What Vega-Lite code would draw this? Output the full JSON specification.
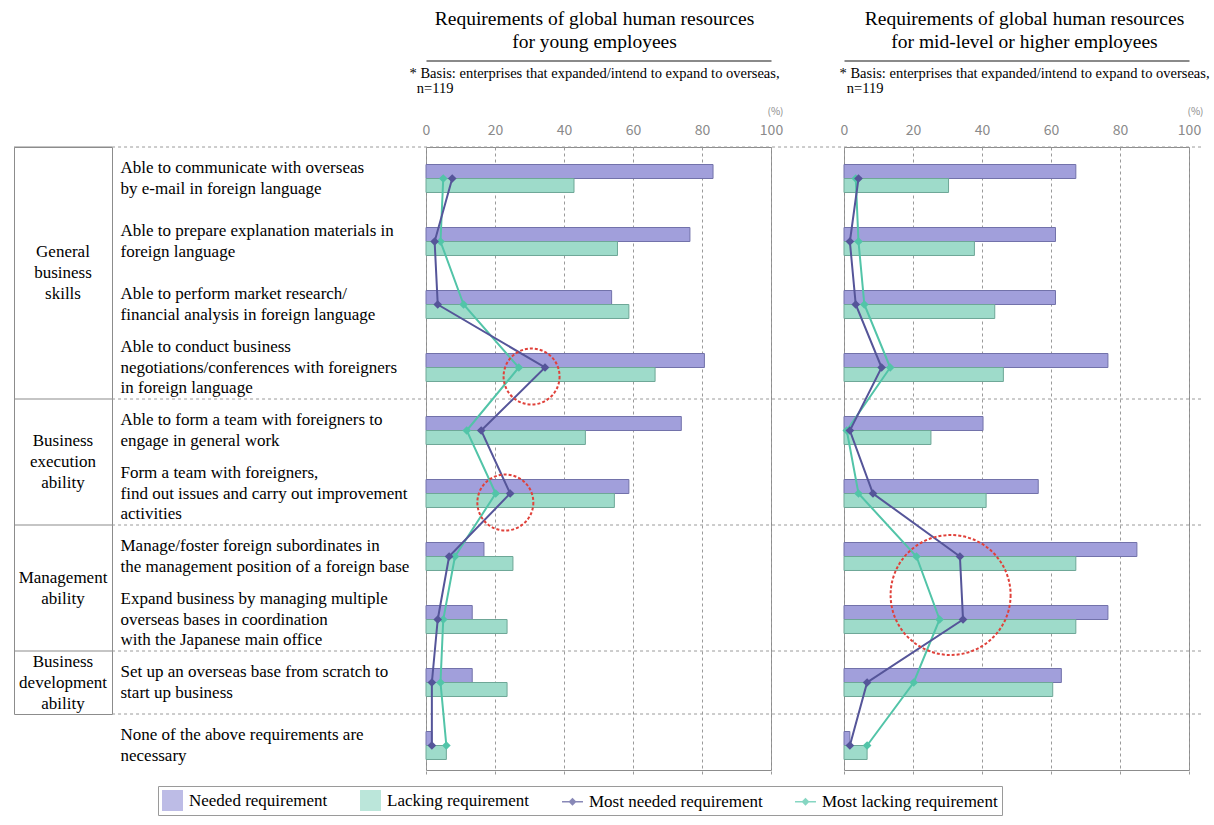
{
  "$schema": "https://vega.github.io/schema/vega-lite/v6.json",
  "padding": {"left": 12, "top": 8, "right": 5, "bottom": 5},
  "bounds": "flush",
  "spacing": 314,
  "config": {
    "view": {"stroke": "#8c8c8c", "strokeWidth": 1},
    "font": "Liberation Serif",
    "title": {"font": "Liberation Serif", "fontSize": 19.5, "fontWeight": "normal", "color": "#000", "lineHeight": 23, "frame": "group", "anchor": "middle", "offset": 8}
  },
  "datasets": {
    "items": [
      {"idx": 1, "item": "Able to communicate with overseas|by e-mail in foreign language"},
      {"idx": 2, "item": "Able to prepare explanation materials in|foreign language"},
      {"idx": 3, "item": "Able to perform market research/|financial analysis in foreign language"},
      {"idx": 4, "item": "Able to conduct business|negotiations/conferences with foreigners|in foreign language"},
      {"idx": 5, "item": "Able to form a team with foreigners to|engage in general work"},
      {"idx": 6, "item": "Form a team with foreigners,|find out issues and carry out improvement|activities"},
      {"idx": 7, "item": "Manage/foster foreign subordinates in|the management position of a foreign base"},
      {"idx": 8, "item": "Expand business by managing multiple|overseas bases in coordination|with the Japanese main office"},
      {"idx": 9, "item": "Set up an overseas base from scratch to|start up business"},
      {"idx": 10, "item": "None of the above requirements are|necessary"}
    ],
    "groups": [
      {"label": ["General", "business", "skills"], "first": 1, "anchor": 2, "span": 4},
      {"label": ["Business", "execution", "ability"], "first": 5, "anchor": 5, "span": 2},
      {"label": ["Management", "ability"], "first": 7, "anchor": 7, "span": 2},
      {"label": ["Business", "development", "ability"], "first": 9, "anchor": 9, "span": 1}
    ],
    "marks": [
      {"panel": "young", "idx": 4, "value": 30.6},
      {"panel": "young", "idx": 6, "value": 23.0},
      {"panel": "mid", "idx": 8, "value": 30.9}
    ],
    "vals": [
      {"panel": "young", "idx": 1, "series": "N", "value": 83.2},
      {"panel": "young", "idx": 2, "series": "N", "value": 76.5},
      {"panel": "young", "idx": 3, "series": "N", "value": 53.8},
      {"panel": "young", "idx": 4, "series": "N", "value": 80.7},
      {"panel": "young", "idx": 5, "series": "N", "value": 74.0},
      {"panel": "young", "idx": 6, "series": "N", "value": 58.8},
      {"panel": "young", "idx": 7, "series": "N", "value": 16.8},
      {"panel": "young", "idx": 8, "series": "N", "value": 13.4},
      {"panel": "young", "idx": 9, "series": "N", "value": 13.4},
      {"panel": "young", "idx": 10, "series": "N", "value": 1.7},
      {"panel": "young", "idx": 1, "series": "L", "value": 42.9},
      {"panel": "young", "idx": 2, "series": "L", "value": 55.5},
      {"panel": "young", "idx": 3, "series": "L", "value": 58.8},
      {"panel": "young", "idx": 4, "series": "L", "value": 66.4},
      {"panel": "young", "idx": 5, "series": "L", "value": 46.2},
      {"panel": "young", "idx": 6, "series": "L", "value": 54.6},
      {"panel": "young", "idx": 7, "series": "L", "value": 25.2},
      {"panel": "young", "idx": 8, "series": "L", "value": 23.5},
      {"panel": "young", "idx": 9, "series": "L", "value": 23.5},
      {"panel": "young", "idx": 10, "series": "L", "value": 5.9},
      {"panel": "young", "idx": 1, "series": "MN", "value": 7.6},
      {"panel": "young", "idx": 2, "series": "MN", "value": 2.5},
      {"panel": "young", "idx": 3, "series": "MN", "value": 3.4},
      {"panel": "young", "idx": 4, "series": "MN", "value": 34.5},
      {"panel": "young", "idx": 5, "series": "MN", "value": 16.0},
      {"panel": "young", "idx": 6, "series": "MN", "value": 24.4},
      {"panel": "young", "idx": 7, "series": "MN", "value": 6.7},
      {"panel": "young", "idx": 8, "series": "MN", "value": 3.4},
      {"panel": "young", "idx": 9, "series": "MN", "value": 1.7},
      {"panel": "young", "idx": 10, "series": "MN", "value": 1.7},
      {"panel": "young", "idx": 1, "series": "ML", "value": 5.0},
      {"panel": "young", "idx": 2, "series": "ML", "value": 4.2},
      {"panel": "young", "idx": 3, "series": "ML", "value": 10.9},
      {"panel": "young", "idx": 4, "series": "ML", "value": 26.9},
      {"panel": "young", "idx": 5, "series": "ML", "value": 11.8},
      {"panel": "young", "idx": 6, "series": "ML", "value": 20.2},
      {"panel": "young", "idx": 7, "series": "ML", "value": 8.4},
      {"panel": "young", "idx": 8, "series": "ML", "value": 5.0},
      {"panel": "young", "idx": 9, "series": "ML", "value": 4.2},
      {"panel": "young", "idx": 10, "series": "ML", "value": 5.9},
      {"panel": "mid", "idx": 1, "series": "N", "value": 67.2},
      {"panel": "mid", "idx": 2, "series": "N", "value": 61.3},
      {"panel": "mid", "idx": 3, "series": "N", "value": 61.3},
      {"panel": "mid", "idx": 4, "series": "N", "value": 76.5},
      {"panel": "mid", "idx": 5, "series": "N", "value": 40.3},
      {"panel": "mid", "idx": 6, "series": "N", "value": 56.3},
      {"panel": "mid", "idx": 7, "series": "N", "value": 84.9},
      {"panel": "mid", "idx": 8, "series": "N", "value": 76.5},
      {"panel": "mid", "idx": 9, "series": "N", "value": 63.0},
      {"panel": "mid", "idx": 10, "series": "N", "value": 1.7},
      {"panel": "mid", "idx": 1, "series": "L", "value": 30.3},
      {"panel": "mid", "idx": 2, "series": "L", "value": 37.8},
      {"panel": "mid", "idx": 3, "series": "L", "value": 43.7},
      {"panel": "mid", "idx": 4, "series": "L", "value": 46.2},
      {"panel": "mid", "idx": 5, "series": "L", "value": 25.2},
      {"panel": "mid", "idx": 6, "series": "L", "value": 41.2},
      {"panel": "mid", "idx": 7, "series": "L", "value": 67.2},
      {"panel": "mid", "idx": 8, "series": "L", "value": 67.2},
      {"panel": "mid", "idx": 9, "series": "L", "value": 60.5},
      {"panel": "mid", "idx": 10, "series": "L", "value": 6.7},
      {"panel": "mid", "idx": 1, "series": "MN", "value": 4.2},
      {"panel": "mid", "idx": 2, "series": "MN", "value": 1.7},
      {"panel": "mid", "idx": 3, "series": "MN", "value": 3.4},
      {"panel": "mid", "idx": 4, "series": "MN", "value": 10.9},
      {"panel": "mid", "idx": 5, "series": "MN", "value": 1.7},
      {"panel": "mid", "idx": 6, "series": "MN", "value": 8.4},
      {"panel": "mid", "idx": 7, "series": "MN", "value": 33.6},
      {"panel": "mid", "idx": 8, "series": "MN", "value": 34.5},
      {"panel": "mid", "idx": 9, "series": "MN", "value": 6.7},
      {"panel": "mid", "idx": 10, "series": "MN", "value": 1.7},
      {"panel": "mid", "idx": 1, "series": "ML", "value": 3.4},
      {"panel": "mid", "idx": 2, "series": "ML", "value": 4.2},
      {"panel": "mid", "idx": 3, "series": "ML", "value": 5.9},
      {"panel": "mid", "idx": 4, "series": "ML", "value": 13.4},
      {"panel": "mid", "idx": 5, "series": "ML", "value": 0.8},
      {"panel": "mid", "idx": 6, "series": "ML", "value": 4.2},
      {"panel": "mid", "idx": 7, "series": "ML", "value": 21.0},
      {"panel": "mid", "idx": 8, "series": "ML", "value": 27.7},
      {"panel": "mid", "idx": 9, "series": "ML", "value": 20.2},
      {"panel": "mid", "idx": 10, "series": "ML", "value": 6.7}
    ]
  },
  "hconcat": [
    {
      "width": 98,
      "height": 567,
      "data": {"name": "groups"},
      "layer": [
        {
          "mark": {"type": "rule", "color": "#8c8c8c", "strokeWidth": 1.2},
          "encoding": {
            "y": {"field": "first", "type": "ordinal", "bandPosition": 0, "scale": {"type": "band", "domain": [1, 2, 3, 4, 5, 6, 7, 8, 9], "paddingInner": 0, "paddingOuter": 0}, "axis": null}
          }
        },
        {
          "transform": [{"filter": "datum.span > 1 && length(datum.label) == 3"}],
          "mark": {"type": "text", "font": "Liberation Serif", "fontSize": 17, "lineHeight": 21, "align": "center", "baseline": "middle", "color": "#000", "dy": -21},
          "encoding": {
            "y": {"field": "anchor", "type": "ordinal", "bandPosition": 1, "axis": null},
            "text": {"field": "label", "type": "nominal"}
          }
        },
        {
          "transform": [{"filter": "datum.span > 1 && length(datum.label) == 2"}],
          "mark": {"type": "text", "font": "Liberation Serif", "fontSize": 17, "lineHeight": 21, "align": "center", "baseline": "middle", "color": "#000", "dy": -10.5},
          "encoding": {
            "y": {"field": "anchor", "type": "ordinal", "bandPosition": 1, "axis": null},
            "text": {"field": "label", "type": "nominal"}
          }
        },
        {
          "transform": [{"filter": "datum.span == 1"}],
          "mark": {"type": "text", "font": "Liberation Serif", "fontSize": 17, "lineHeight": 21, "align": "center", "baseline": "middle", "color": "#000", "dy": -21},
          "encoding": {
            "y": {"field": "anchor", "type": "ordinal", "bandPosition": 0.5, "axis": null},
            "text": {"field": "label", "type": "nominal"}
          }
        }
      ]
    },
    {
      "hconcat": [
        {
          "width": 345,
          "height": 623,
          "title": {"text": ["Requirements of global human resources", "for young employees"], "dx": -4},
          "data": {"name": "vals"},
          "transform": [
            {"filter": "datum.panel == 'young'"},
            {"lookup": "idx", "from": {"data": {"name": "items"}, "key": "idx", "fields": ["item"]}}
          ],
          "resolve": {"axis": {"x": "independent"}},
          "layer": [
            {
              "transform": [{"filter": "datum.series == 'N' || datum.series == 'L'"}],
              "mark": {"type": "bar", "strokeWidth": 1},
              "encoding": {
                "y": {
                  "field": "item", "type": "nominal", "sort": null,
                  "scale": {"type": "band", "range": [0, 630], "paddingInner": 0.5556, "paddingOuter": 0.2778},
                  "axis": {"orient": "left", "labelExpr": "split(datum.label, '|')", "labelAlign": "left", "labelBaseline": "middle", "labelOffset": {"condition": {"test": "length(split(datum.value, '|')) == 3", "value": -20.5}, "value": -10.25}, "labelPadding": 306, "labelFont": "Liberation Serif", "labelFontSize": 17, "labelLineHeight": 20.5, "labelColor": "#000", "labelLimit": 0, "labelOverlap": false, "labelBound": false, "domain": false, "ticks": false, "grid": false, "title": null}
                },
                "yOffset": {"field": "series", "type": "nominal", "sort": ["N", "L"], "scale": {"domain": ["N", "L"], "paddingInner": 0, "paddingOuter": 0}},
                "x": {
                  "field": "value", "type": "quantitative",
                  "scale": {"domain": [0, 100], "nice": false},
                  "axis": {"orient": "top", "values": [0, 20, 40, 60, 80, 100], "labelFlush": false, "labelFont": "Noto Sans CJK JP", "labelFontSize": 14, "labelColor": "#8a8a8a", "labelPadding": 10, "ticks": false, "domain": false, "grid": true, "gridColor": "#9a9a9a", "gridDash": [3, 3], "title": "(%)", "titleFont": "Noto Sans CJK JP", "titleFontSize": 10, "titleFontWeight": "normal", "titleColor": "#8a8a8a", "titleX": 357, "titleY": -36, "titleAlign": "right", "titleBaseline": "middle", "titleAngle": 0}
                },
                "fill": {"condition": {"test": "datum.series == 'N'", "value": "#a19fdb"}, "value": "#9edbca"},
                "stroke": {"condition": {"test": "datum.series == 'N'", "value": "#7272aa"}, "value": "#6ea797"}
              }
            },
            {
              "transform": [{"filter": "datum.series == 'N' && indexof([1, 5, 7, 9, 10], datum.idx) >= 0"}],
              "mark": {"type": "rule", "color": "#9a9a9a", "strokeDash": [3, 3], "yOffset": -31.5},
              "encoding": {
                "y": {"field": "item", "type": "nominal", "sort": null},
                "x": {"datum": -91, "type": "quantitative", "axis": null},
                "x2": {"datum": 121}
              }
            },
            {
              "transform": [{"filter": "datum.series == 'ML'"}],
              "mark": {"type": "line", "color": "#52c4a8", "strokeWidth": 2},
              "encoding": {
                "y": {"field": "item", "type": "nominal", "sort": null},
                "x": {"field": "value", "type": "quantitative", "axis": null},
                "order": {"field": "idx"}
              }
            },
            {
              "transform": [{"filter": "datum.series == 'MN'"}],
              "mark": {"type": "line", "color": "#555599", "strokeWidth": 2},
              "encoding": {
                "y": {"field": "item", "type": "nominal", "sort": null},
                "x": {
                  "field": "value", "type": "quantitative",
                  "axis": {"orient": "top", "offset": 86.5, "labels": false, "ticks": false, "grid": false, "domain": true, "domainColor": "#8a8a8a", "domainWidth": 2, "title": ["* Basis: enterprises that expanded/intend to expand to overseas,", "\u200b\u00a0\u00a0n=119"], "titleFont": "Liberation Serif", "titleFontSize": 14.5, "titleFontWeight": "normal", "titleColor": "#000", "titleAlign": "left", "titleBaseline": "top", "titleX": -17, "titleY": 6, "titleLineHeight": 15, "titleAngle": 0}
                },
                "order": {"field": "idx"}
              }
            },
            {
              "transform": [{"filter": "datum.series == 'ML'"}],
              "mark": {"type": "point", "shape": "diamond", "size": 75, "filled": true, "color": "#52c4a8", "opacity": 1},
              "encoding": {
                "y": {"field": "item", "type": "nominal", "sort": null},
                "x": {"field": "value", "type": "quantitative", "axis": null}
              }
            },
            {
              "transform": [{"filter": "datum.series == 'MN'"}],
              "mark": {"type": "point", "shape": "diamond", "size": 75, "filled": true, "color": "#555599", "opacity": 1},
              "encoding": {
                "y": {"field": "item", "type": "nominal", "sort": null},
                "x": {"field": "value", "type": "quantitative", "axis": null}
              }
            },
            {
              "data": {"name": "marks"},
              "transform": [
                {"filter": "datum.panel == 'young'"},
                {"lookup": "idx", "from": {"data": {"name": "items"}, "key": "idx", "fields": ["item"]}}
              ],
              "mark": {"type": "point", "shape": "circle", "size": 3136, "filled": false, "stroke": "#e0413a", "strokeWidth": 2, "strokeDash": [3, 2], "yOffset": 9, "opacity": 1},
              "encoding": {
                "y": {"field": "item", "type": "nominal", "sort": null},
                "x": {"field": "value", "type": "quantitative", "axis": null}
              }
            }
          ]
        },
        {
          "width": 345,
          "height": 623,
          "title": {"text": ["Requirements of global human resources", "for mid-level or higher employees"], "dx": 8},
          "data": {"name": "vals"},
          "transform": [
            {"filter": "datum.panel == 'mid'"},
            {"lookup": "idx", "from": {"data": {"name": "items"}, "key": "idx", "fields": ["item"]}}
          ],
          "resolve": {"axis": {"x": "independent"}},
          "layer": [
            {
              "transform": [{"filter": "datum.series == 'N' || datum.series == 'L'"}],
              "mark": {"type": "bar", "strokeWidth": 1},
              "encoding": {
                "y": {
                  "field": "item", "type": "nominal", "sort": null,
                  "scale": {"type": "band", "range": [0, 630], "paddingInner": 0.5556, "paddingOuter": 0.2778},
                  "axis": null
                },
                "yOffset": {"field": "series", "type": "nominal", "sort": ["N", "L"], "scale": {"domain": ["N", "L"], "paddingInner": 0, "paddingOuter": 0}},
                "x": {
                  "field": "value", "type": "quantitative",
                  "scale": {"domain": [0, 100], "nice": false},
                  "axis": {"orient": "top", "values": [0, 20, 40, 60, 80, 100], "labelFlush": false, "labelFont": "Noto Sans CJK JP", "labelFontSize": 14, "labelColor": "#8a8a8a", "labelPadding": 10, "ticks": false, "domain": false, "grid": true, "gridColor": "#9a9a9a", "gridDash": [3, 3], "title": "(%)", "titleFont": "Noto Sans CJK JP", "titleFontSize": 10, "titleFontWeight": "normal", "titleColor": "#8a8a8a", "titleX": 359, "titleY": -36, "titleAlign": "right", "titleBaseline": "middle", "titleAngle": 0}
                },
                "fill": {"condition": {"test": "datum.series == 'N'", "value": "#a19fdb"}, "value": "#9edbca"},
                "stroke": {"condition": {"test": "datum.series == 'N'", "value": "#7272aa"}, "value": "#6ea797"}
              }
            },
            {
              "transform": [{"filter": "datum.series == 'N' && indexof([1, 5, 7, 9, 10], datum.idx) >= 0"}],
              "mark": {"type": "rule", "color": "#9a9a9a", "strokeDash": [3, 3], "yOffset": -31.5},
              "encoding": {
                "y": {"field": "item", "type": "nominal", "sort": null, "axis": null},
                "x": {"datum": 0, "type": "quantitative", "axis": null},
                "x2": {"datum": 104}
              }
            },
            {
              "transform": [{"filter": "datum.series == 'ML'"}],
              "mark": {"type": "line", "color": "#52c4a8", "strokeWidth": 2},
              "encoding": {
                "y": {"field": "item", "type": "nominal", "sort": null, "axis": null},
                "x": {"field": "value", "type": "quantitative", "axis": null},
                "order": {"field": "idx"}
              }
            },
            {
              "transform": [{"filter": "datum.series == 'MN'"}],
              "mark": {"type": "line", "color": "#555599", "strokeWidth": 2},
              "encoding": {
                "y": {"field": "item", "type": "nominal", "sort": null, "axis": null},
                "x": {
                  "field": "value", "type": "quantitative",
                  "axis": {"orient": "top", "offset": 86.5, "labels": false, "ticks": false, "grid": false, "domain": true, "domainColor": "#8a8a8a", "domainWidth": 2, "title": ["* Basis: enterprises that expanded/intend to expand to overseas,", "\u200b\u00a0\u00a0n=119"], "titleFont": "Liberation Serif", "titleFontSize": 14.5, "titleFontWeight": "normal", "titleColor": "#000", "titleAlign": "left", "titleBaseline": "top", "titleX": -5, "titleY": 6, "titleLineHeight": 15, "titleAngle": 0}
                },
                "order": {"field": "idx"}
              }
            },
            {
              "transform": [{"filter": "datum.series == 'ML'"}],
              "mark": {"type": "point", "shape": "diamond", "size": 75, "filled": true, "color": "#52c4a8", "opacity": 1},
              "encoding": {
                "y": {"field": "item", "type": "nominal", "sort": null, "axis": null},
                "x": {"field": "value", "type": "quantitative", "axis": null}
              }
            },
            {
              "transform": [{"filter": "datum.series == 'MN'"}],
              "mark": {"type": "point", "shape": "diamond", "size": 75, "filled": true, "color": "#555599", "opacity": 1},
              "encoding": {
                "y": {"field": "item", "type": "nominal", "sort": null, "axis": null},
                "x": {"field": "value", "type": "quantitative", "axis": null}
              }
            },
            {
              "data": {"name": "marks"},
              "transform": [
                {"filter": "datum.panel == 'mid'"},
                {"lookup": "idx", "from": {"data": {"name": "items"}, "key": "idx", "fields": ["item"]}}
              ],
              "mark": {"type": "point", "shape": "circle", "size": 14400, "filled": false, "stroke": "#e0413a", "strokeWidth": 2, "strokeDash": [3, 2], "yOffset": -24.5, "opacity": 1},
              "encoding": {
                "y": {"field": "item", "type": "nominal", "sort": null, "axis": null},
                "x": {"field": "value", "type": "quantitative", "axis": null}
              }
            },
            {
              "transform": [{"filter": "datum.idx == 10"}],
              "mark": {"type": "point", "filled": true, "clip": true},
              "encoding": {
                "y": {"field": "item", "type": "nominal", "sort": null, "axis": null},
                "x": {"datum": -60, "type": "quantitative", "axis": null},
                "color": {
                  "field": "series", "type": "nominal",
                  "scale": {"domain": ["N", "L", "MN", "ML"], "range": ["#a19fdb", "#9edbca", "#555599", "#52c4a8"]},
                  "legend": {"orient": "none", "legendX": 144, "legendY": 639, "direction": "horizontal", "columns": 4, "title": null, "labelFont": "Liberation Serif", "labelFontSize": 17, "labelColor": "#000", "labelLimit": 0, "symbolSize": 440, "symbolStrokeWidth": 0, "strokeColor": "#9a9a9a", "padding": 4, "columnPadding": 32, "labelOffset": 6, "labelExpr": "datum.label == 'N' ? 'Needed requirement' : datum.label == 'L' ? 'Lacking requirement' : datum.label == 'MN' ? 'Most needed requirement' : 'Most lacking requirement'"}
                },
                "shape": {
                  "field": "series", "type": "nominal",
                  "scale": {"domain": ["N", "L", "MN", "ML"], "range": ["square", "square", "M-1,-0.07L1,-0.07L1,0.07L-1,0.07Z M0,-0.38L0.38,0L0,0.38L-0.38,0Z", "M-1,-0.07L1,-0.07L1,0.07L-1,0.07Z M0,-0.38L0.38,0L0,0.38L-0.38,0Z"]},
                  "legend": {"orient": "none", "legendX": 144, "legendY": 639, "direction": "horizontal", "columns": 4, "title": null, "labelFont": "Liberation Serif", "labelFontSize": 17, "labelColor": "#000", "labelLimit": 0, "symbolSize": 440, "symbolStrokeWidth": 0, "strokeColor": "#9a9a9a", "padding": 4, "columnPadding": 32, "labelOffset": 6, "labelExpr": "datum.label == 'N' ? 'Needed requirement' : datum.label == 'L' ? 'Lacking requirement' : datum.label == 'MN' ? 'Most needed requirement' : 'Most lacking requirement'"}
                }
              }
            }
          ]
        }
      ],
      "spacing": 73,
      "bounds": "flush"
    }
  ]
}
